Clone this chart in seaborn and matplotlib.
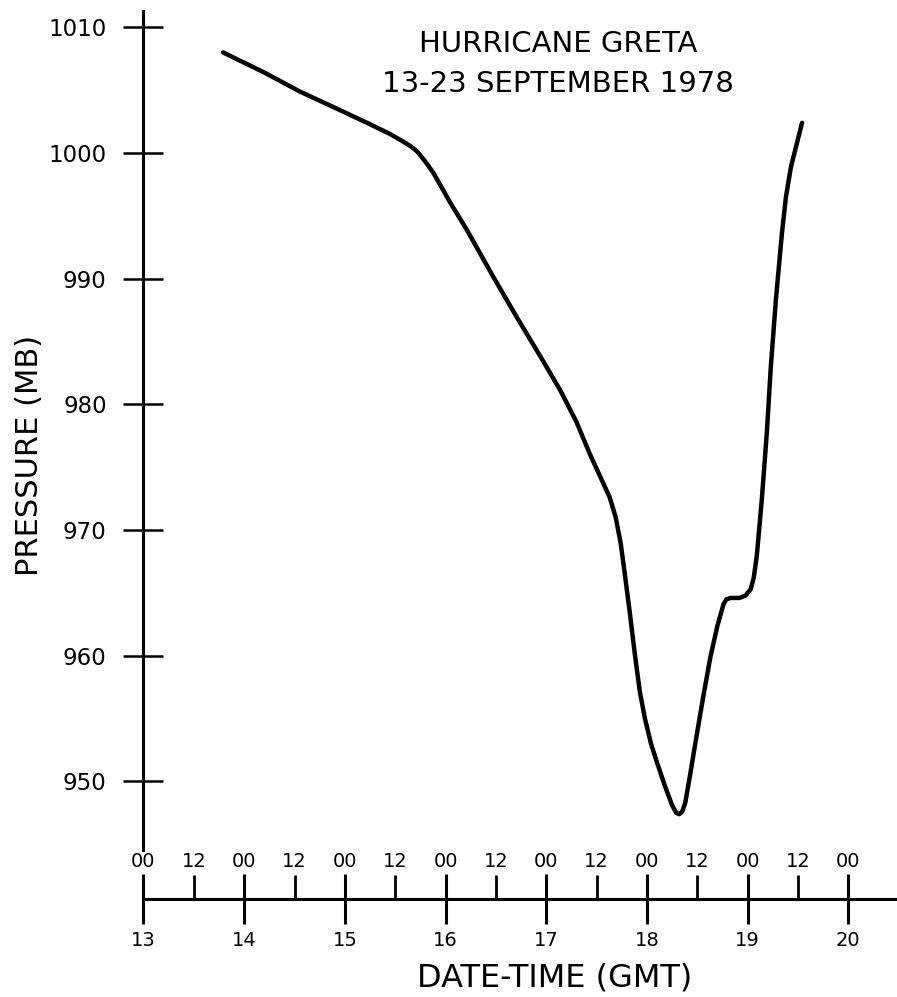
import matplotlib
matplotlib.use("Agg")
import matplotlib.pyplot as plt
import seaborn as sns

# pressure trace of Hurricane Greta (x in days of September)
days = [13.79, 14.20, 14.55, 14.90, 15.22, 15.45, 15.58, 15.66, 15.72, 15.80,
        15.88, 16.05, 16.21, 16.47, 16.71, 16.95, 17.14, 17.30, 17.43, 17.55,
        17.63, 17.69, 17.74, 17.78, 17.83, 17.88, 17.93, 17.98, 18.04, 18.10,
        18.18, 18.25, 18.29, 18.32, 18.35, 18.38, 18.43, 18.49, 18.56, 18.63,
        18.70, 18.76, 18.79, 18.83, 18.92, 18.98, 19.03, 19.06, 19.09, 19.14,
        19.19, 19.23, 19.28, 19.34, 19.38, 19.43, 19.54]
pressure = [1008.0, 1006.4, 1004.9, 1003.6, 1002.4, 1001.5, 1000.9, 1000.5, 1000.1, 999.3,
            998.4, 996.0, 993.9, 990.2, 986.9, 983.7, 981.1, 978.6, 976.1, 974.0,
            972.6, 971.0, 968.9, 966.5, 963.4, 960.1, 957.1, 955.0, 953.0, 951.5,
            949.6, 948.1, 947.5, 947.4, 947.6, 948.3, 950.6, 953.5, 956.8, 959.9,
            962.4, 964.1, 964.5, 964.6, 964.6, 964.8, 965.3, 966.2, 967.9, 972.4,
            977.7, 983.0, 988.3, 993.6, 996.5, 998.9, 1002.4]

y_ticks = [950, 960, 970, 980, 990, 1000, 1010]
day_ticks = [13, 14, 15, 16, 17, 18, 19, 20]
half_days = [13.5, 14.5, 15.5, 16.5, 17.5, 18.5, 19.5]
hour_ticks = [13 + 0.5 * i for i in range(15)]
hour_labels = ["00" if i % 2 == 0 else "12" for i in range(15)]

sns.set_style("ticks")
plt.rcParams["font.family"] = ["DejaVu Sans"]
plt.rcParams["text.color"] = "black"
plt.rcParams["axes.labelcolor"] = "black"

fig = plt.figure(figsize=(8.97, 9.97), dpi=100)
ax = fig.add_axes([0, 98 / 997, 1, 899 / 997])

sns.lineplot(x=days, y=pressure, sort=False, estimator=None, color="black",
             linewidth=3.2, ax=ax)

ax.set_xlim(11.575, 20.483)
ax.set_ylim(940.65, 1012.17)

for side in ["top", "right"]:
    ax.spines[side].set_visible(False)
ax.spines["left"].set_position(("data", 13))
ax.spines["left"].set_bounds(944.55, 1011.3)
ax.spines["bottom"].set_bounds(13, 20.483)
for side in ["left", "bottom"]:
    ax.spines[side].set_linewidth(2.2)
    ax.spines[side].set_color("black")

ax.set_yticks(y_ticks)
ax.set_yticklabels([str(v) for v in y_ticks])
ax.tick_params(axis="y", left=True, direction="inout", length=29, width=1.8, pad=12,
               labelsize=16.5, colors="black")

ax.set_xticks(day_ticks)
ax.set_xticklabels([str(d) for d in day_ticks])
ax.set_xticks(half_days, minor=True)
ax.tick_params(axis="x", which="major", bottom=True, direction="inout", length=36,
               width=2.2, pad=5, labelsize=14, colors="black")
ax.tick_params(axis="x", which="minor", bottom=True, direction="in", length=17,
               width=2.0, colors="black")

# hour labels above the time axis
secax = ax.secondary_xaxis(0.0)
secax.set_alignment("top")
secax.set_xticks(hour_ticks)
secax.set_xticklabels(hour_labels)
secax.tick_params(axis="x", length=0, pad=20, labelsize=14, colors="black")
for s in secax.spines.values():
    s.set_visible(False)

ax.set_xlabel("DATE-TIME (GMT)", fontsize=23, va="center")
ax.xaxis.set_label_coords(555 / 897, -79 / 899)
ax.set_ylabel("PRESSURE (MB)", fontsize=22, va="center")
ax.yaxis.set_label_coords(30 / 897, (899 - 455) / 899)

ax.text(558 / 897, (899 - 64) / 899, "HURRICANE GRETA\n13-23 SEPTEMBER 1978",
        transform=ax.transAxes, ha="center", va="center", multialignment="center",
        fontsize=21, linespacing=1.5, color="black")

fig.savefig("out.png", dpi=100)
